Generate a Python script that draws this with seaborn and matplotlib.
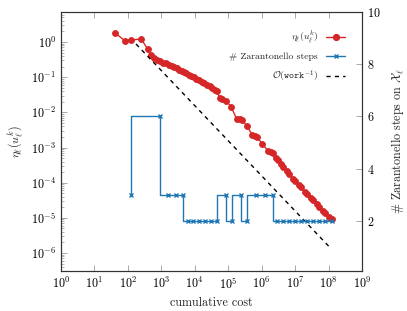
import matplotlib
matplotlib.use("Agg")
import matplotlib.pyplot as plt
import seaborn as sns
import numpy as np
import pandas as pd
from matplotlib.lines import Line2D

# ---------------- data ----------------
eta_cost = [41.2, 80.3, 124, 252, 392, 481, 584, 718, 913, 1122, 1380, 1641, 2015, 2393,
            2843, 3379, 4010, 4603, 5470, 6500, 7720, 9170, 1.09e4, 1.34e4, 1.59e4, 1.89e4,
            2.32e4, 2.76e4, 3.28e4, 3.89e4, 4.62e4, 5.49e4, 6.53e4, 8.59e4, 1.21e5, 1.77e5,
            2.18e5, 2.59e5, 3.53e5, 5.15e5, 6.12e5, 7.02e5, 1.03e6, 1.55e6, 1.84e6, 2.19e6,
            2.60e6, 2.98e6, 3.66e6, 4.35e6, 5.53e6, 6.58e6, 8.37e6, 9.95e6, 1.27e7, 1.50e7,
            1.91e7, 2.27e7, 2.89e7, 3.44e7, 4.37e7, 5.19e7, 6.61e7, 7.85e7, 1.03e8, 1.23e8]
eta_vals = [1.84, 1.09, 1.14, 1.22, 0.62, 0.42, 0.362, 0.318, 0.288, 0.261, 0.245, 0.229,
            0.208, 0.195, 0.179, 0.165, 0.152, 0.142, 0.130, 0.119, 0.108, 0.0985, 0.0899,
            0.0815, 0.0729, 0.0661, 0.0599, 0.0543, 0.0492, 0.0446, 0.0404, 0.0264, 0.0232,
            0.0217, 0.0145, 6.68e-3, 6.47e-3, 6.06e-3, 4.22e-3, 2.34e-3, 2.19e-3, 2.05e-3,
            1.30e-3, 7.96e-4, 7.45e-4, 6.98e-4, 4.87e-4, 4.42e-4, 3.40e-4, 2.88e-4, 2.08e-4,
            1.82e-4, 1.31e-4, 1.15e-4, 8.59e-5, 7.53e-5, 5.61e-5, 4.92e-5, 3.66e-5, 3.22e-5,
            2.40e-5, 2.10e-5, 1.57e-5, 1.37e-5, 1.06e-5, 9.27e-6]

zar_cost = [124, 913, 1585, 2750, 4450, 6280, 8850, 1.34e4, 2.02e4, 3.06e4, 4.62e4,
            8.59e4, 1.30e5, 2.41e5, 3.65e5, 6.78e5, 1.26e6, 2.19e6, 2.88e6, 4.35e6, 6.58e6,
            9.95e6, 1.50e7, 2.27e7, 3.44e7, 5.19e7, 7.85e7, 1.23e8]
zar_steps = [3, 6, 3, 3, 3, 2, 2, 2, 2, 2, 2, 3, 2, 3, 2, 3, 3, 3, 2, 2, 2, 2, 2, 2, 2, 2, 2, 2]

ref_cost = [175, 1.16e8]
ref_vals = [0.877, 1.36e-6]

labels = [r"$\eta_\ell(u_\ell^k)$", "# Zarantonello steps", r"$\mathcal{O}(\mathtt{work}^{-1})$"]

# ---------------- style ----------------
sns.set_style("ticks")
plt.rcParams["font.family"] = ["cmr10", "DejaVu Serif"]
plt.rcParams["mathtext.fontset"] = "cm"
plt.rcParams["axes.formatter.use_mathtext"] = True
plt.rcParams["axes.unicode_minus"] = True

RED = "#d62728"
BLUE = "#1f77b4"
FS = 8.7

fig = plt.figure(figsize=(4.07, 3.11), dpi=100)
ax = fig.add_axes([61/407, 1-271/311, (362-61)/407, (271-12)/311])
ax2 = ax.twinx()

df_eta = pd.DataFrame({"cost": eta_cost, "eta": eta_vals})
df_zar = pd.DataFrame({"cost": zar_cost, "steps": zar_steps})
df_ref = pd.DataFrame({"cost": ref_cost, "val": ref_vals})

sns.lineplot(data=df_eta, x="cost", y="eta", ax=ax, color=RED, marker="o",
             markersize=4.2, markeredgewidth=0.7, markeredgecolor=RED,
             linewidth=1.0, estimator=None, sort=False, legend=False)
sns.lineplot(data=df_ref, x="cost", y="val", ax=ax, color="black", linestyle=(0, (3, 3)),
             linewidth=1.0, estimator=None, sort=False, legend=False)
sns.lineplot(data=df_zar, x="cost", y="steps", ax=ax2, color=BLUE, marker="x",
             markersize=3.2, markeredgewidth=1.0, markeredgecolor=BLUE,
             linewidth=1.0, drawstyle="steps-pre", estimator=None, sort=False, legend=False)

ax.set_xscale("log")
ax.set_yscale("log")
ax.set_xlim(1, 1e9)
ax.set_ylim(3.08e-7, 7.13)
ax2.set_ylim(0.08, 10)
ax2.set_yticks([2, 4, 6, 8, 10])

ax.set_xticks([10.0**k for k in range(0, 10)])
ax.set_yticks([10.0**k for k in range(-6, 1)])

for a in (ax, ax2):
    for s in a.spines.values():
        s.set_color("#333333")
        s.set_linewidth(0.8)

ax.tick_params(axis="both", which="both", direction="in", colors="#999999",
               labelcolor="black", labelsize=FS)
ax.tick_params(axis="x", which="both", top=True)
ax.tick_params(which="major", length=4, width=0.6)
ax.tick_params(which="minor", length=2.2, width=0.5)
ax.tick_params(axis="y", right=False)
ax2.tick_params(axis="y", which="both", direction="in", colors="#999999",
                labelcolor="black", labelsize=FS, length=4, width=0.6)
ax2.minorticks_off()

ax.set_xlabel("cumulative cost", fontsize=FS, labelpad=4)
ax.set_ylabel(labels[0], fontsize=FS, labelpad=4)
ax2.set_ylabel(r"# Zarantonello steps on $\mathcal{X}_\ell$", fontsize=FS, labelpad=6)
ax2.set_xlabel("")

handles = [
    Line2D([], [], color=RED, marker="o", markersize=4.2, linewidth=1.0),
    Line2D([], [], color=BLUE, marker="x", markersize=3.2, markeredgewidth=1.0, linewidth=1.0),
    Line2D([], [], color="black", linestyle=(0, (3, 3)), linewidth=1.0),
]
leg = ax2.legend(handles, labels, loc="upper right", frameon=False, markerfirst=False,
                 fontsize=7, handlelength=2.0, handletextpad=0.8, labelspacing=0.75,
                 borderaxespad=1.0, bbox_to_anchor=(0.99, 0.985))

fig.savefig("out.png", dpi=100)
